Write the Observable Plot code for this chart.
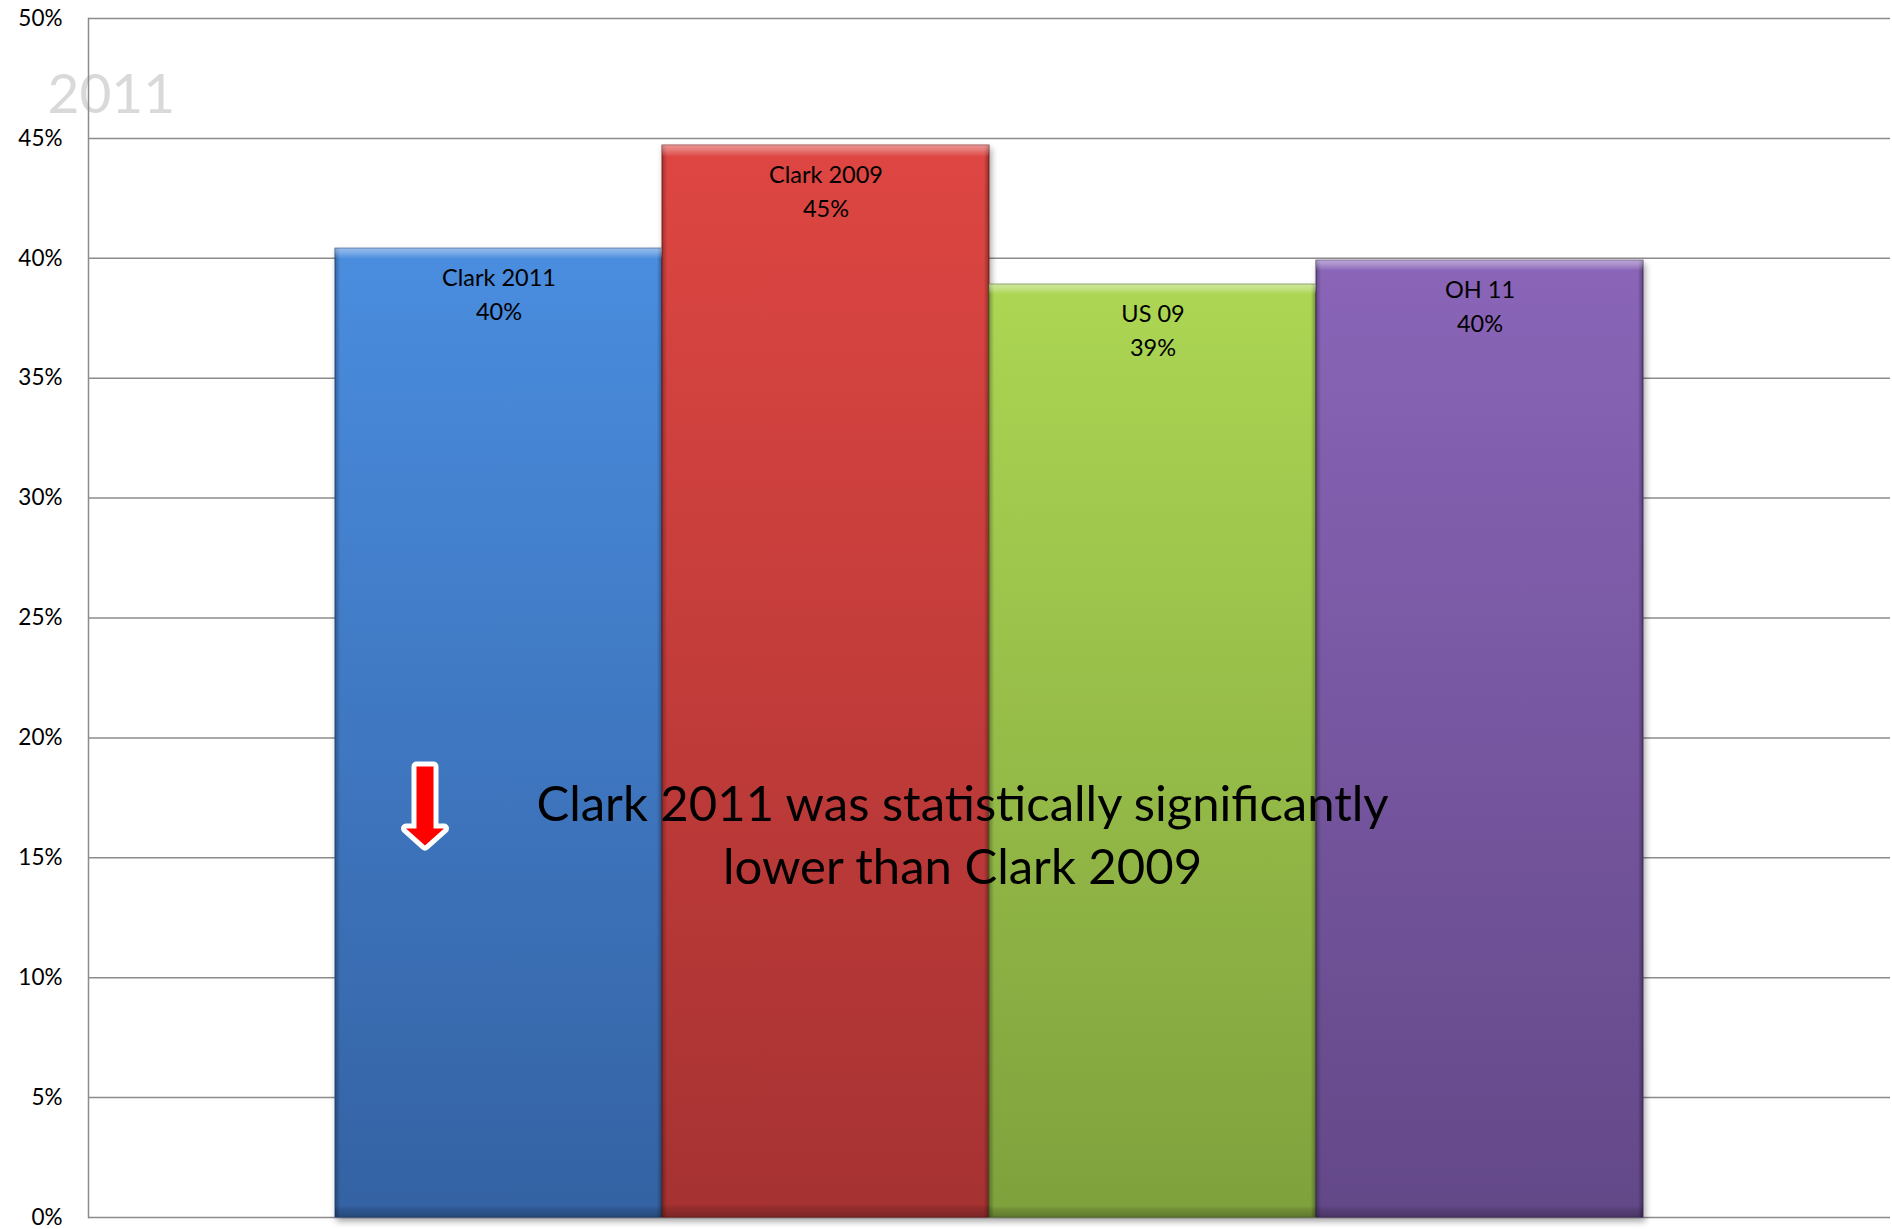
<!DOCTYPE html>
<html><head><meta charset="utf-8">
<script src="https://cdn.jsdelivr.net/npm/d3@7"></script>
<script src="https://cdn.jsdelivr.net/npm/@observablehq/plot@0.6"></script>
<style>html,body{margin:0;padding:0;background:#fff;} #chart svg{display:block}</style>
</head><body><div id="chart"></div>
<script>
// ---- data ----
const categories = ["Clark 2011", "Clark 2009", "US 09", "OH 11"];
const values = [40.4, 44.7, 38.9, 39.9];
const valueLabels = ["40%", "45%", "39%", "40%"];
const yTicks = [0, 5, 10, 15, 20, 25, 30, 35, 40, 45, 50];
const watermark = "2011";
const note = "Clark 2011 was statistically significantly\nlower than Clark 2009";
const arrowCategory = "Clark 2011";

// ---- styles ----
const gradIds = ["g-blue", "g-red", "g-green", "g-purple"];
const gradStops = [["#4a8ddf", "#3462a3"], ["#de4642", "#a63232"], ["#acd653", "#7fa13d"], ["#8a65b8", "#634888"]];
const edgeColors = ["#2d5590", "#8f2828", "#6b8a30", "#523a72"];

const data = categories.map((c, i) => ({category: c, value: values[i], label: `${c}\n${valueLabels[i]}`}));

const arrowSymbol = {
  draw(ctx) {
    ctx.moveTo(-8.5, -38); ctx.lineTo(8.5, -38); ctx.lineTo(8.5, 24); ctx.lineTo(19, 24);
    ctx.lineTo(0, 41); ctx.lineTo(-19, 24); ctx.lineTo(-8.5, 24); ctx.closePath();
  }
};

const plot = Plot.plot({
  width: 1892, height: 1229,
  marginLeft: 88, marginRight: 2, marginTop: 18, marginBottom: 12,
  style: {fontFamily: "Lato, sans-serif", background: "#fff"},
  x: {domain: categories, paddingInner: 0, paddingOuter: 0.75, axis: null},
  y: {domain: [0, 50], axis: null},
  color: {domain: categories, range: gradIds.map(id => `url(#${id})`)},
  marks: [
    Plot.text([watermark], {frameAnchor: "top-left", text: d => d, dx: -41, dy: 55, lineAnchor: "top", textAnchor: "start", fontSize: 55, fill: "#d9d9d9"}),
    Plot.gridY(yTicks, {stroke: "#8c8c8c", strokeOpacity: 1, strokeWidth: 1.5}),
    Plot.frame({anchor: "left", stroke: "#8c8c8c", strokeWidth: 1.5}),
    Plot.axisY(yTicks, {label: null, tickSize: 0, tickPadding: 26, tickFormat: d => d + "%", fontSize: 22.5, fill: "#000"}),
    Plot.barY(data, {x: "category", y: "value", fill: "category", stroke: d => edgeColors[categories.indexOf(d.category)], strokeWidth: 1}),
    Plot.barY(data, {x: "category", y: "value", fill: "url(#g-sides)"}),
    Plot.barY(data, {x: "category", y: "value", fill: "url(#g-top)"}),
    Plot.text(data, {x: "category", y: "value", text: "label", lineAnchor: "top", dy: 14, fontSize: 23.5, lineHeight: 1.42, fill: "#000"}),
    Plot.text([note], {frameAnchor: "middle", text: d => d, dx: -27, dy: 158, lineAnchor: "top", fontSize: 49, lineHeight: 1.29, fill: "#000"}),
    Plot.dot([arrowCategory], {x: d => d, frameAnchor: "bottom", dx: -74, dy: -413, symbol: arrowSymbol, r: 10, fill: "#ff0000", stroke: "#ffffff", strokeWidth: 10, paintOrder: "stroke", strokeLinejoin: "round"})
  ]
});

const svg = d3.select(plot);
const defs = svg.insert("defs", ":first-child");
gradIds.forEach((id, i) => {
  const g = defs.append("linearGradient").attr("id", id).attr("x1", 0).attr("y1", 0).attr("x2", 0).attr("y2", 1);
  g.append("stop").attr("offset", 0).attr("stop-color", gradStops[i][0]);
  g.append("stop").attr("offset", 1).attr("stop-color", gradStops[i][1]);
});
{
  const g = defs.append("linearGradient").attr("id", "g-sides").attr("x1", 0).attr("y1", 0).attr("x2", 1).attr("y2", 0);
  [[0, "#000", 0.28], [0.016, "#000", 0], [0.984, "#000", 0], [1, "#000", 0.32]].forEach(([o, c, a]) =>
    g.append("stop").attr("offset", o).attr("stop-color", c).attr("stop-opacity", a));
}
{
  const g = defs.append("linearGradient").attr("id", "g-top").attr("x1", 0).attr("y1", 0).attr("x2", 0).attr("y2", 1);
  [[0, "#fff", 0.42], [0.004, "#fff", 0.3], [0.011, "#fff", 0], [0.988, "#000", 0], [0.992, "#000", 0.12], [1, "#000", 0.25]].forEach(([o, c, a]) =>
    g.append("stop").attr("offset", o).attr("stop-color", c).attr("stop-opacity", a));
}
const barGroups = svg.selectAll('g[aria-label="bar"]').nodes();
if (barGroups.length) barGroups[0].style.filter = "drop-shadow(2px 4px 3px rgba(0,0,0,0.35))";

document.getElementById("chart").appendChild(plot);
</script>
</body></html>
